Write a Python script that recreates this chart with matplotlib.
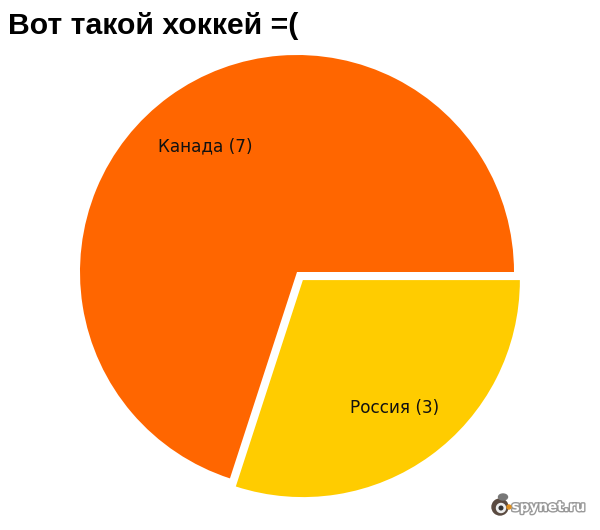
import matplotlib
matplotlib.use("Agg")
import matplotlib.pyplot as plt
import matplotlib.patheffects as pe
from matplotlib.patches import Circle, Ellipse

labels = ["Канада (7)", "Россия (3)"]
values = [7, 3]
colors = ["#ff6600", "#ffcc00"]
explode_px = [0, 10]

W, H = 600, 530
fig = plt.figure(figsize=(W/100, H/100), dpi=100, facecolor="white")
R = 217
cx, cy = 297, 272
ax = fig.add_axes([0, 0, 1, 1])

ax.pie(values, colors=colors, startangle=0, counterclock=False,
       radius=R, center=(cx, cy), frame=False, explode=explode_px)
ax.set_xlim(0, W)
ax.set_ylim(H, 0)
ax.set_aspect("equal")
ax.axis("off")

ax.text(205, 146, labels[0], ha="center", va="center", fontsize=12.2,
        family="DejaVu Sans", color="#111111")
ax.text(395, 408, labels[1], ha="center", va="center", fontsize=12.2,
        family="DejaVu Sans", color="#111111")

fig.text(8/W, 1 - 26/H, "Вот такой хоккей =(", fontsize=21.7, fontweight="bold",
         family="Liberation Sans", ha="left", va="center", color="black")

# watermark: small bird logo and grey outlined text
ax.add_patch(Ellipse((500, 507), 16, 16, color="#5a4a40", zorder=5))
ax.add_patch(Ellipse((503, 497), 9, 6, color="#777777", zorder=5))
ax.add_patch(Circle((501, 508), 4.5, color="#eeeeee", zorder=6))
ax.add_patch(Circle((501, 508), 1.8, color="#333333", zorder=7))
ax.add_patch(Circle((509, 507), 2, color="#e09020", zorder=6))
ax.text(548.5, 507, "spynet.ru", fontsize=9.8, fontweight="bold",
        family="DejaVu Sans", ha="center", va="center", color="#ffffff",
        path_effects=[pe.withStroke(linewidth=2, foreground="#999999")])

fig.savefig("out.png", dpi=100, facecolor="white")
